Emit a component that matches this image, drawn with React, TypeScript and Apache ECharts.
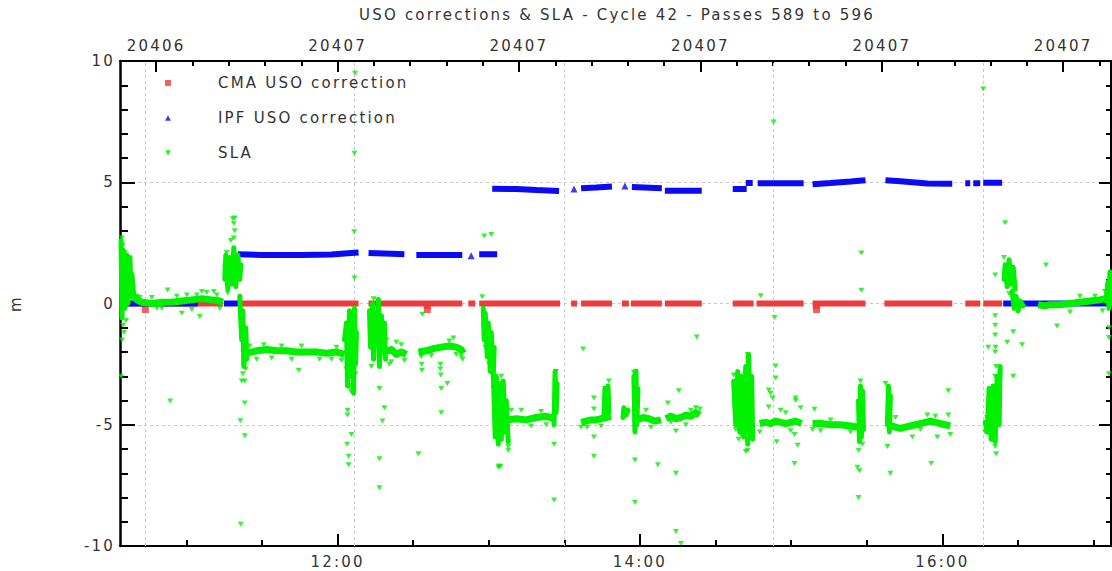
import React, { useEffect, useRef } from 'react';
import * as echarts from 'echarts';

// ---------- texts & ticks ----------
const TITLE = 'USO corrections & SLA - Cycle 42 - Passes 589 to 596';
const Y_NAME = 'm';
const LEGEND_CMA = 'CMA USO correction';
const LEGEND_IPF = 'IPF USO correction';
const LEGEND_SLA = 'SLA';

// bottom axis: decimal hours of the day
const X_MIN_H = 10.561;
const X_MAX_H = 17.116;
const bottomTickHours = [12, 14, 16];
const bottomTickLabels = ['12:00', '14:00', '16:00'];
const bottomMinorHours = [11, 11.5, 12, 12.5, 13, 13.5, 14, 14.5, 15, 15.5, 16, 16.5, 17];

// top axis: day number
const DAY_AT_NOON = 20407;
const topTickDays = [20406.95, 20407.0, 20407.05, 20407.1, 20407.15, 20407.2];
const topTickLabels = ['20406', '20407', '20407', '20407', '20407', '20407'];

// vertical dashed grid lines (hours)
const verticalGridHours = [10.726, 12.112, 13.498, 14.884, 16.271];

// ---------- CMA USO correction (m) ----------
const cmaTracks: number[][][] = [
  [[10.568, 0], [11.241, 0]],
  [[11.366, 0], [12.139, 0]],
  [[12.205, 0], [12.825, 0]],
  [[12.865, 0], [12.911, 0]],
  [[12.937, 0], [13.472, 0]],
  [[13.545, 0], [13.584, 0]],
  [[13.611, 0], [13.815, 0]],
  [[13.881, 0], [13.927, 0]],
  [[13.941, 0], [14.145, 0]],
  [[14.165, 0], [14.409, 0]],
  [[14.614, 0], [14.752, 0]],
  [[14.772, 0], [15.083, 0]],
  [[15.142, 0], [15.492, 0]],
  [[15.617, 0], [16.066, 0]],
  [[16.152, 0], [16.251, 0]],
  [[16.271, 0], [16.396, 0]],
];
const cmaBlobs = [
  [10.729, -0.25],
  [12.594, -0.08], [12.594, -0.25],
  [15.168, -0.08], [15.168, -0.25],
];

// ---------- IPF USO correction (m) ----------
const ipfTracks: number[][][] = [
  [[10.568, 0], [11.076, 0]],
  [[11.248, 0], [11.366, 0]],
  [[11.340, 2.03], [11.498, 2.0], [11.762, 2.0], [11.960, 2.02], [12.092, 2.08], [12.139, 2.1]],
  [[12.205, 2.08], [12.356, 2.05], [12.442, 2.03]],
  [[12.521, 2.0], [12.825, 2.0]],
  [[12.937, 2.03], [13.056, 2.03]],
  [[13.023, 4.73], [13.182, 4.72], [13.314, 4.68], [13.465, 4.64]],
  [[13.611, 4.75], [13.710, 4.78], [13.815, 4.82]],
  [[13.947, 4.8], [14.145, 4.75]],
  [[14.165, 4.65], [14.409, 4.65]],
  [[14.614, 4.72], [14.706, 4.72]],
  [[14.700, 4.97], [14.746, 4.97]],
  [[14.779, 4.96], [15.083, 4.96]],
  [[15.142, 4.92], [15.261, 4.97], [15.393, 5.03], [15.492, 5.08]],
  [[15.624, 5.08], [15.723, 5.04], [15.822, 4.99], [15.901, 4.95], [16.066, 4.94]],
  [[16.152, 4.96], [16.185, 4.96]],
  [[16.205, 4.96], [16.251, 4.96]],
  [[16.271, 4.98], [16.396, 4.98]],
  [[16.403, 0], [17.116, 0]],
];
const ipfIsolated = [[12.884, 1.97], [13.564, 4.72], [13.901, 4.85]];

// ---------- SLA (m) ----------
const slaBands: number[][][] = [
  [[10.640, 0.35], [10.673, 0.15], [10.706, 0.05], [10.772, 0.0], [10.838, 0.05], [10.904, 0.05], [10.970, 0.1], [11.036, 0.15], [11.102, 0.2], [11.168, 0.15], [11.221, 0.1], [11.241, 0.05]],
  [[11.399, -2.05], [11.465, -1.95], [11.531, -1.9], [11.597, -1.95], [11.663, -1.95], [11.729, -2.0], [11.795, -2.0], [11.861, -2.0], [11.927, -2.05], [11.993, -2.0], [12.046, -2.1]],
  [[12.310, -2.0], [12.356, -1.9], [12.389, -2.1], [12.422, -2.0], [12.455, -2.1]],
  [[12.535, -2.0], [12.587, -1.95], [12.640, -1.85], [12.686, -1.8], [12.739, -1.75], [12.785, -1.8], [12.818, -1.9], [12.832, -2.05]],
  [[13.116, -4.8], [13.182, -4.75], [13.248, -4.8], [13.314, -4.7], [13.380, -4.65], [13.432, -4.75]],
  [[13.611, -4.9], [13.644, -4.85], [13.677, -4.8], [13.710, -4.8], [13.743, -4.75], [13.776, -4.7], [13.809, -4.65]],
  [[13.980, -4.8], [14.020, -4.7], [14.059, -4.75], [14.099, -4.85], [14.139, -4.8]],
  [[14.172, -4.75], [14.205, -4.65], [14.238, -4.75], [14.271, -4.7], [14.304, -4.6], [14.337, -4.65], [14.370, -4.5], [14.396, -4.6]],
  [[14.792, -4.95], [14.832, -4.9], [14.865, -4.95], [14.898, -4.85], [14.931, -4.9], [14.964, -4.95], [14.997, -4.9], [15.030, -4.85], [15.069, -4.95]],
  [[15.142, -4.95], [15.195, -4.95], [15.261, -5.0], [15.327, -5.0], [15.393, -5.05], [15.439, -5.1]],
  [[15.644, -5.0], [15.690, -5.1], [15.723, -5.15], [15.756, -5.1], [15.789, -5.05], [15.822, -5.0], [15.855, -4.95], [15.888, -4.9], [15.921, -4.85], [15.954, -4.9], [15.987, -4.95], [16.020, -5.0], [16.053, -5.05]],
  [[16.634, -0.05], [16.680, -0.1], [16.713, -0.05], [16.779, -0.05], [16.845, 0.0], [16.911, 0.05], [16.977, 0.1], [17.043, 0.15], [17.076, 0.2], [17.116, 0.35]],
];
const slaClusters: number[][][] = [
  [[10.568, 2.6], [10.574, -0.6], [10.581, 2.2], [10.594, -0.2], [10.607, 2.0], [10.614, 0.0], [10.627, 1.9], [10.634, 0.3], [10.640, 1.2], [10.653, 0.2]],
  [[11.254, 1.0], [11.261, 2.0], [11.274, 0.6], [11.287, 1.9], [11.300, 0.8], [11.314, 2.3], [11.327, 0.7], [11.340, 2.0], [11.353, 1.0], [11.360, 1.6]],
  [[11.353, 0.3], [11.366, -1.5], [11.373, -0.3], [11.380, -2.6], [11.393, -1.0], [11.399, -2.3]],
  [[12.046, -1.5], [12.059, -0.8], [12.066, -3.4], [12.079, -0.3], [12.086, -3.0], [12.099, -0.6], [12.106, -3.7], [12.112, -0.2], [12.119, -2.5], [12.125, -1.2]],
  [[12.211, -0.3], [12.218, -1.8], [12.231, 0.0], [12.238, -2.3], [12.251, -0.4], [12.257, -1.6], [12.271, 0.15], [12.277, -2.6], [12.290, -0.5], [12.297, -2.0], [12.310, -0.8], [12.317, -2.3]],
  [[12.964, -0.2], [12.970, -1.5], [12.977, -0.4], [12.990, -2.2], [12.997, -0.8], [13.010, -2.8], [13.017, -1.2], [13.030, -3.0], [13.036, -1.8]],
  [[13.030, -2.8], [13.043, -5.5], [13.050, -3.0], [13.063, -5.8], [13.069, -3.3], [13.083, -5.6], [13.096, -3.2], [13.109, -5.3], [13.116, -4.0], [13.129, -5.7]],
  [[13.432, -5.0], [13.439, -2.8], [13.446, -4.5], [13.452, -3.3]],
  [[13.762, -4.6], [13.769, -3.5], [13.782, -4.7], [13.789, -3.4], [13.795, -4.5]],
  [[13.888, -4.7], [13.894, -4.3], [13.908, -4.6], [13.921, -4.4]],
  [[13.960, -3.0], [13.967, -5.3], [13.974, -2.8], [13.980, -5.0], [13.987, -3.5]],
  [[14.620, -3.2], [14.634, -5.0], [14.647, -2.8], [14.660, -5.3], [14.673, -3.0], [14.686, -5.5], [14.700, -2.6], [14.713, -5.8], [14.719, -2.1], [14.726, -4.6], [14.739, -3.0], [14.746, -5.6]],
  [[15.446, -4.0], [15.452, -5.7], [15.459, -3.4], [15.465, -5.5], [15.472, -3.6], [15.479, -5.2]],
  [[15.637, -5.0], [15.644, -3.4], [15.650, -5.3], [15.657, -3.8]],
  [[16.284, -4.9], [16.297, -5.3], [16.310, -3.5], [16.323, -5.6], [16.337, -3.4], [16.350, -5.7], [16.363, -3.0], [16.376, -5.0], [16.383, -2.6]],
  [[16.409, 1.0], [16.416, 1.6], [16.429, 0.7], [16.442, 1.8], [16.455, 0.8], [16.469, 1.5], [16.482, 0.6]],
  [[16.462, 0.5], [16.475, -0.2], [16.488, 0.3], [16.502, -0.3], [16.515, 0.1], [16.535, -0.1]],
  [[17.083, 0.1], [17.096, 0.9], [17.102, -0.2], [17.109, 1.3], [17.116, 0.0]],
];
const slaPoints = [
  [10.568, -3.0], [10.574, -1.5], [10.587, -1.2], [10.581, -0.9], [10.601, -0.7], [10.574, 2.7], [10.581, 2.4], [10.594, 2.1],
  [10.653, 0.4], [10.673, 0.3], [10.693, 0.25], [10.876, 0.56], [10.970, -0.4], [11.089, -0.54], [11.182, 0.5], [11.102, 0.49],
  [10.893, -4.02], [10.838, -0.2], [10.937, 0.3], [11.036, -0.25], [11.135, 0.45], [11.201, 0.35], [10.772, 0.25], [10.805, -0.2],
  [11.003, 0.35], [11.069, 0.35], [11.221, -0.2],
  [11.307, 3.5], [11.320, 3.53], [11.314, 3.3], [11.320, 3.0], [11.314, 2.7], [11.274, 0.43], [11.267, 2.1], [11.294, 2.6], [11.254, 1.5],
  [11.366, -3.2], [11.386, -3.2], [11.386, -4.1], [11.357, -4.83], [11.386, -5.45], [11.360, -9.1], [11.373, -2.9], [11.380, -2.6], [11.393, -2.7],
  [11.512, -1.7], [11.696, -2.3], [11.743, -2.75], [11.762, -1.75], [11.881, -2.3], [11.564, -2.25], [11.630, -1.75], [11.960, -2.3],
  [11.993, -1.8], [12.026, -2.35], [11.465, -2.3], [11.419, -1.75],
  [12.066, -4.4], [12.066, -4.6], [12.092, -5.4], [12.063, -5.8], [12.073, -6.3], [12.073, -6.65], [12.112, 1.05], [12.110, 2.96],
  [12.112, 6.2], [12.116, 9.5], [12.086, -3.6], [12.066, -3.3], [12.079, -3.4], [12.099, -3.5], [12.119, -2.9], [12.059, -2.7],
  [12.277, -3.5], [12.310, -4.3], [12.297, -4.85], [12.277, -6.4], [12.277, -7.6], [12.535, -6.2], [12.264, 0.14], [12.343, -2.5],
  [12.389, -1.6], [12.238, 0.2], [12.224, -2.6], [12.323, -1.5], [12.356, -2.4], [12.422, -1.7], [12.442, -2.35],
  [12.554, -2.2], [12.556, -2.5], [12.558, -2.75], [12.680, -2.5], [12.680, -2.7], [12.683, -2.95], [12.686, -3.5], [12.726, -3.3],
  [12.686, -4.5], [12.766, -1.42], [12.561, -0.44], [12.818, -2.2], [12.828, -2.3], [12.620, -2.15], [12.739, -1.55], [12.785, -2.1],
  [12.957, 0.28], [12.970, 2.78], [13.017, 2.85], [13.069, -6.7], [13.063, -6.75], [13.076, -6.72], [13.129, -5.9], [13.129, -6.05],
  [12.964, -0.9], [12.977, -1.8], [13.003, -2.5], [13.432, -5.8], [13.432, -8.1], [13.446, -2.8], [13.439, -3.2], [13.083, -3.0],
  [13.102, -5.3], [13.215, -4.4], [13.281, -5.05], [13.347, -4.45], [13.380, -5.0], [13.149, -4.4], [13.030, -3.5],
  [13.624, -1.88], [13.696, -3.9], [13.696, -4.35], [13.696, -5.5], [13.696, -6.3], [13.650, -5.1], [13.795, -3.2], [13.769, -3.5],
  [13.967, -6.45], [13.967, -8.2], [14.119, -6.65], [14.040, -4.4], [14.073, -5.1], [13.960, -2.85], [13.974, -2.8], [13.611, -5.1], [13.743, -5.05],
  [14.185, -4.1], [14.257, -3.6], [14.238, -5.26], [14.238, -7.0], [14.238, -9.4], [14.271, -9.9], [14.376, -1.38], [14.370, -4.3],
  [14.304, -5.0], [14.205, -4.9], [14.337, -4.4], [14.396, -4.35],
  [14.713, -2.1], [14.713, -2.3], [14.713, -6.05], [14.700, -6.1], [14.653, -5.6], [14.667, -5.4], [14.799, 0.32], [14.891, -0.58],
  [14.898, -2.58], [14.898, -3.07], [14.852, -3.57], [14.852, -4.27], [14.878, -3.9], [14.931, -4.4], [15.023, -6.6], [15.030, -3.9],
  [15.030, -4.0], [15.043, -5.85], [15.063, -4.3], [15.023, -5.4], [14.904, -5.7], [14.865, -3.7], [14.620, -2.95], [14.634, -5.2],
  [14.792, -5.3], [14.964, -4.5], [14.997, -5.25], [14.884, 7.48],
  [15.446, -6.05], [15.472, -5.8], [15.439, -6.75], [15.452, -6.9], [15.446, -8.0], [15.465, 2.08], [15.465, 0.55], [15.155, -4.36],
  [15.459, -3.2], [15.195, -5.25], [15.261, -4.8], [15.393, -5.3], [15.142, -5.2],
  [15.637, -5.9], [15.657, -7.0], [15.624, -3.3], [15.927, -6.6], [15.967, -5.5], [16.040, -3.6], [15.901, -4.6], [15.802, -5.5],
  [16.053, -5.4], [15.690, -4.7], [16.040, -4.6], [15.855, -5.2], [15.954, -4.65],
  [16.350, -0.5], [16.350, -0.9], [16.350, -1.3], [16.352, -1.8], [16.350, -2.0], [16.356, -2.6], [16.350, -3.0], [16.304, -1.8],
  [16.350, 1.18], [16.343, -5.6], [16.356, -6.2], [16.350, -5.9], [16.271, 8.85], [16.284, -5.3], [16.297, -4.7],
  [16.416, 3.33], [16.686, 1.59], [16.469, -1.17], [16.429, -1.6], [16.528, -1.7], [16.469, -3.0], [16.759, -0.93], [17.102, -1.0],
  [17.102, -1.4], [17.102, -2.9], [17.109, 0.5], [16.409, 1.9], [16.442, 0.4], [16.911, 0.3], [16.845, -0.35], [17.010, 0.3],
  [17.076, 0.5], [17.060, -0.3],
];

// ---------- styles ----------
const RED = '#ef3b3b';
const BLUE = '#0a0af5';
const GREEN = '#00f000';
const TEXT = '#333333';
const GRID_GRAY = '#c8c8c8';
const FONT = 'DejaVu Sans';
const TRI_DOWN = 'path://M0,0L10,0L5,9Z';
const TRI_UP = 'path://M5,0L10,9L0,9Z';
const SQUARE = 'path://M0,0L10,0L10,10L0,10Z';

const joinTracks = (tracks: number[][][]) => {
  const out: any[] = [];
  tracks.forEach((t, i) => {
    if (i > 0) out.push(['-', '-']);
    t.forEach((p) => out.push(p));
  });
  return out;
};

const pick = (values: number[], labels: string[]) => (v: number) => {
  const i = values.findIndex((x) => Math.abs(x - v) < 1e-6);
  return i >= 0 ? labels[i] : '';
};

const dayOf = (h: number) => DAY_AT_NOON + (h - 12) / 24;

export default function App() {
  const ref = useRef<HTMLDivElement>(null);

  useEffect(() => {
    if (!ref.current) return;
    const chart = echarts.init(ref.current, undefined, { renderer: 'svg' });

    const topMinor: number[] = [];
    for (let k = 0; k <= 26; k++) topMinor.push(Math.round((20406.95 + k * 0.01) * 1000) / 1000);

    const black = { color: '#000', width: 2 };

    const option: any = {
      animation: false,
      backgroundColor: '#fff',
      textStyle: { fontFamily: FONT, fontSize: 15, color: TEXT },
      title: {
        text: TITLE,
        left: 617,
        top: 7,
        padding: 0,
        textAlign: 'center',
        textStyle: { fontFamily: FONT, fontSize: 15, fontWeight: 'normal', color: TEXT },
      },
      legend: {
        orient: 'vertical',
        left: 165,
        top: 74,
        padding: 0,
        itemWidth: 6,
        itemHeight: 6,
        itemGap: 17,
        selectedMode: false,
        textStyle: { fontFamily: FONT, fontSize: 15, color: TEXT, lineHeight: 18, padding: [0, 0, 0, 42] },
        data: [
          { name: LEGEND_CMA, icon: SQUARE },
          { name: LEGEND_IPF, icon: TRI_UP },
          { name: LEGEND_SLA, icon: TRI_DOWN },
        ],
      },
      grid: { left: 118, top: 61, right: 1, bottom: 25, containLabel: false },
      xAxis: [
        {
          type: 'value', position: 'bottom', min: X_MIN_H, max: X_MAX_H,
          axisLine: { onZero: false, lineStyle: black },
          axisTick: { inside: true, length: 12, customValues: bottomTickHours, lineStyle: black },
          axisLabel: { customValues: bottomTickHours, formatter: pick(bottomTickHours, bottomTickLabels), margin: 8, fontSize: 15, color: TEXT, fontFamily: FONT },
          splitLine: { show: false },
        },
        {
          type: 'value', position: 'bottom', min: X_MIN_H, max: X_MAX_H,
          axisLine: { show: false, onZero: false },
          axisTick: { inside: true, length: 6, customValues: bottomMinorHours, lineStyle: black },
          axisLabel: { show: false },
          splitLine: { show: false },
        },
        {
          type: 'value', position: 'top', min: dayOf(X_MIN_H), max: dayOf(X_MAX_H),
          axisLine: { onZero: false, lineStyle: black },
          axisTick: { inside: true, length: 11, customValues: topTickDays, lineStyle: black },
          axisLabel: { customValues: topTickDays, formatter: pick(topTickDays, topTickLabels), margin: 8, fontSize: 15, color: TEXT, fontFamily: FONT },
          splitLine: { show: false },
        },
        {
          type: 'value', position: 'top', min: dayOf(X_MIN_H), max: dayOf(X_MAX_H),
          axisLine: { show: false, onZero: false },
          axisTick: { inside: true, length: 5, customValues: topMinor, lineStyle: black },
          axisLabel: { show: false },
          splitLine: { show: false },
        },
      ],
      yAxis: [
        {
          type: 'value', position: 'left', min: -10, max: 10, interval: 5,
          name: Y_NAME, nameLocation: 'middle', nameGap: 97, nameRotate: 90,
          nameTextStyle: { fontSize: 15, color: TEXT, fontFamily: FONT },
          axisLine: { onZero: false, lineStyle: { color: '#000', width: 2.5 } },
          axisTick: { inside: true, length: 15, lineStyle: black },
          minorTick: { show: true, splitNumber: 5, length: 8, lineStyle: black },
          axisLabel: { margin: 5, fontSize: 15, color: TEXT, fontFamily: FONT },
          splitLine: { show: true, lineStyle: { color: GRID_GRAY, type: [3, 3], width: 1 } },
        },
        {
          type: 'value', position: 'right', min: -10, max: 10, interval: 5,
          axisLine: { onZero: false, lineStyle: black },
          axisTick: { inside: true, length: 12, lineStyle: black },
          minorTick: { show: true, splitNumber: 5, length: 5, lineStyle: black },
          axisLabel: { show: false },
          splitLine: { show: false },
        },
      ],
      series: [
        {
          name: LEGEND_CMA, type: 'scatter', xAxisIndex: 0, yAxisIndex: 0,
          data: cmaBlobs, symbol: 'rect', symbolSize: 7, itemStyle: { color: RED }, z: 3,
          emphasis: { disabled: true },
          markLine: {
            silent: true, z: 1, symbol: ['none', 'none'], label: { show: false },
            lineStyle: { color: GRID_GRAY, type: [3, 3], width: 1 },
            emphasis: { disabled: true },
            data: verticalGridHours.map((h) => ({ xAxis: h })),
          },
        },
        {
          name: LEGEND_CMA, type: 'line', xAxisIndex: 0, yAxisIndex: 0,
          data: joinTracks(cmaTracks), showSymbol: false, symbol: 'none', connectNulls: false,
          lineStyle: { color: RED, width: 6, cap: 'butt' }, itemStyle: { color: RED }, z: 3,
          emphasis: { disabled: true },
        },
        {
          name: LEGEND_IPF, type: 'scatter', xAxisIndex: 0, yAxisIndex: 0,
          data: ipfIsolated, symbol: 'triangle', symbolSize: 7, itemStyle: { color: BLUE }, z: 4,
          emphasis: { disabled: true },
        },
        {
          name: LEGEND_IPF, type: 'line', xAxisIndex: 0, yAxisIndex: 0,
          data: joinTracks(ipfTracks), showSymbol: false, symbol: 'none', connectNulls: false,
          lineStyle: { color: BLUE, width: 6, cap: 'butt' }, itemStyle: { color: BLUE }, z: 4,
          emphasis: { disabled: true },
        },
        {
          name: LEGEND_SLA, type: 'scatter', xAxisIndex: 0, yAxisIndex: 0,
          data: slaPoints, symbol: TRI_DOWN, symbolSize: [6, 5], itemStyle: { color: GREEN }, z: 5,
          emphasis: { disabled: true },
        },
        {
          name: LEGEND_SLA, type: 'line', xAxisIndex: 0, yAxisIndex: 0,
          data: joinTracks(slaBands), showSymbol: false, symbol: 'none', connectNulls: false,
          lineStyle: { color: GREEN, width: 7, join: 'round', cap: 'butt' }, itemStyle: { color: GREEN }, z: 5,
          emphasis: { disabled: true },
        },
        {
          name: LEGEND_SLA, type: 'line', xAxisIndex: 0, yAxisIndex: 0,
          data: joinTracks(slaClusters), showSymbol: false, symbol: 'none', connectNulls: false,
          lineStyle: { color: GREEN, width: 5, join: 'round', cap: 'round' }, itemStyle: { color: GREEN }, z: 5,
          emphasis: { disabled: true },
        },
      ],
    };

    chart.setOption(option);
    return () => chart.dispose();
  }, []);

  return (
    <>
      <style>{'#uso-chart svg text { letter-spacing: 2.2px; }'}</style>
      <div
        id="uso-chart"
        ref={ref}
        style={{ position: 'fixed', left: 0, top: 0, width: 1112, height: 571, background: '#fff' }}
      />
    </>
  );
}
